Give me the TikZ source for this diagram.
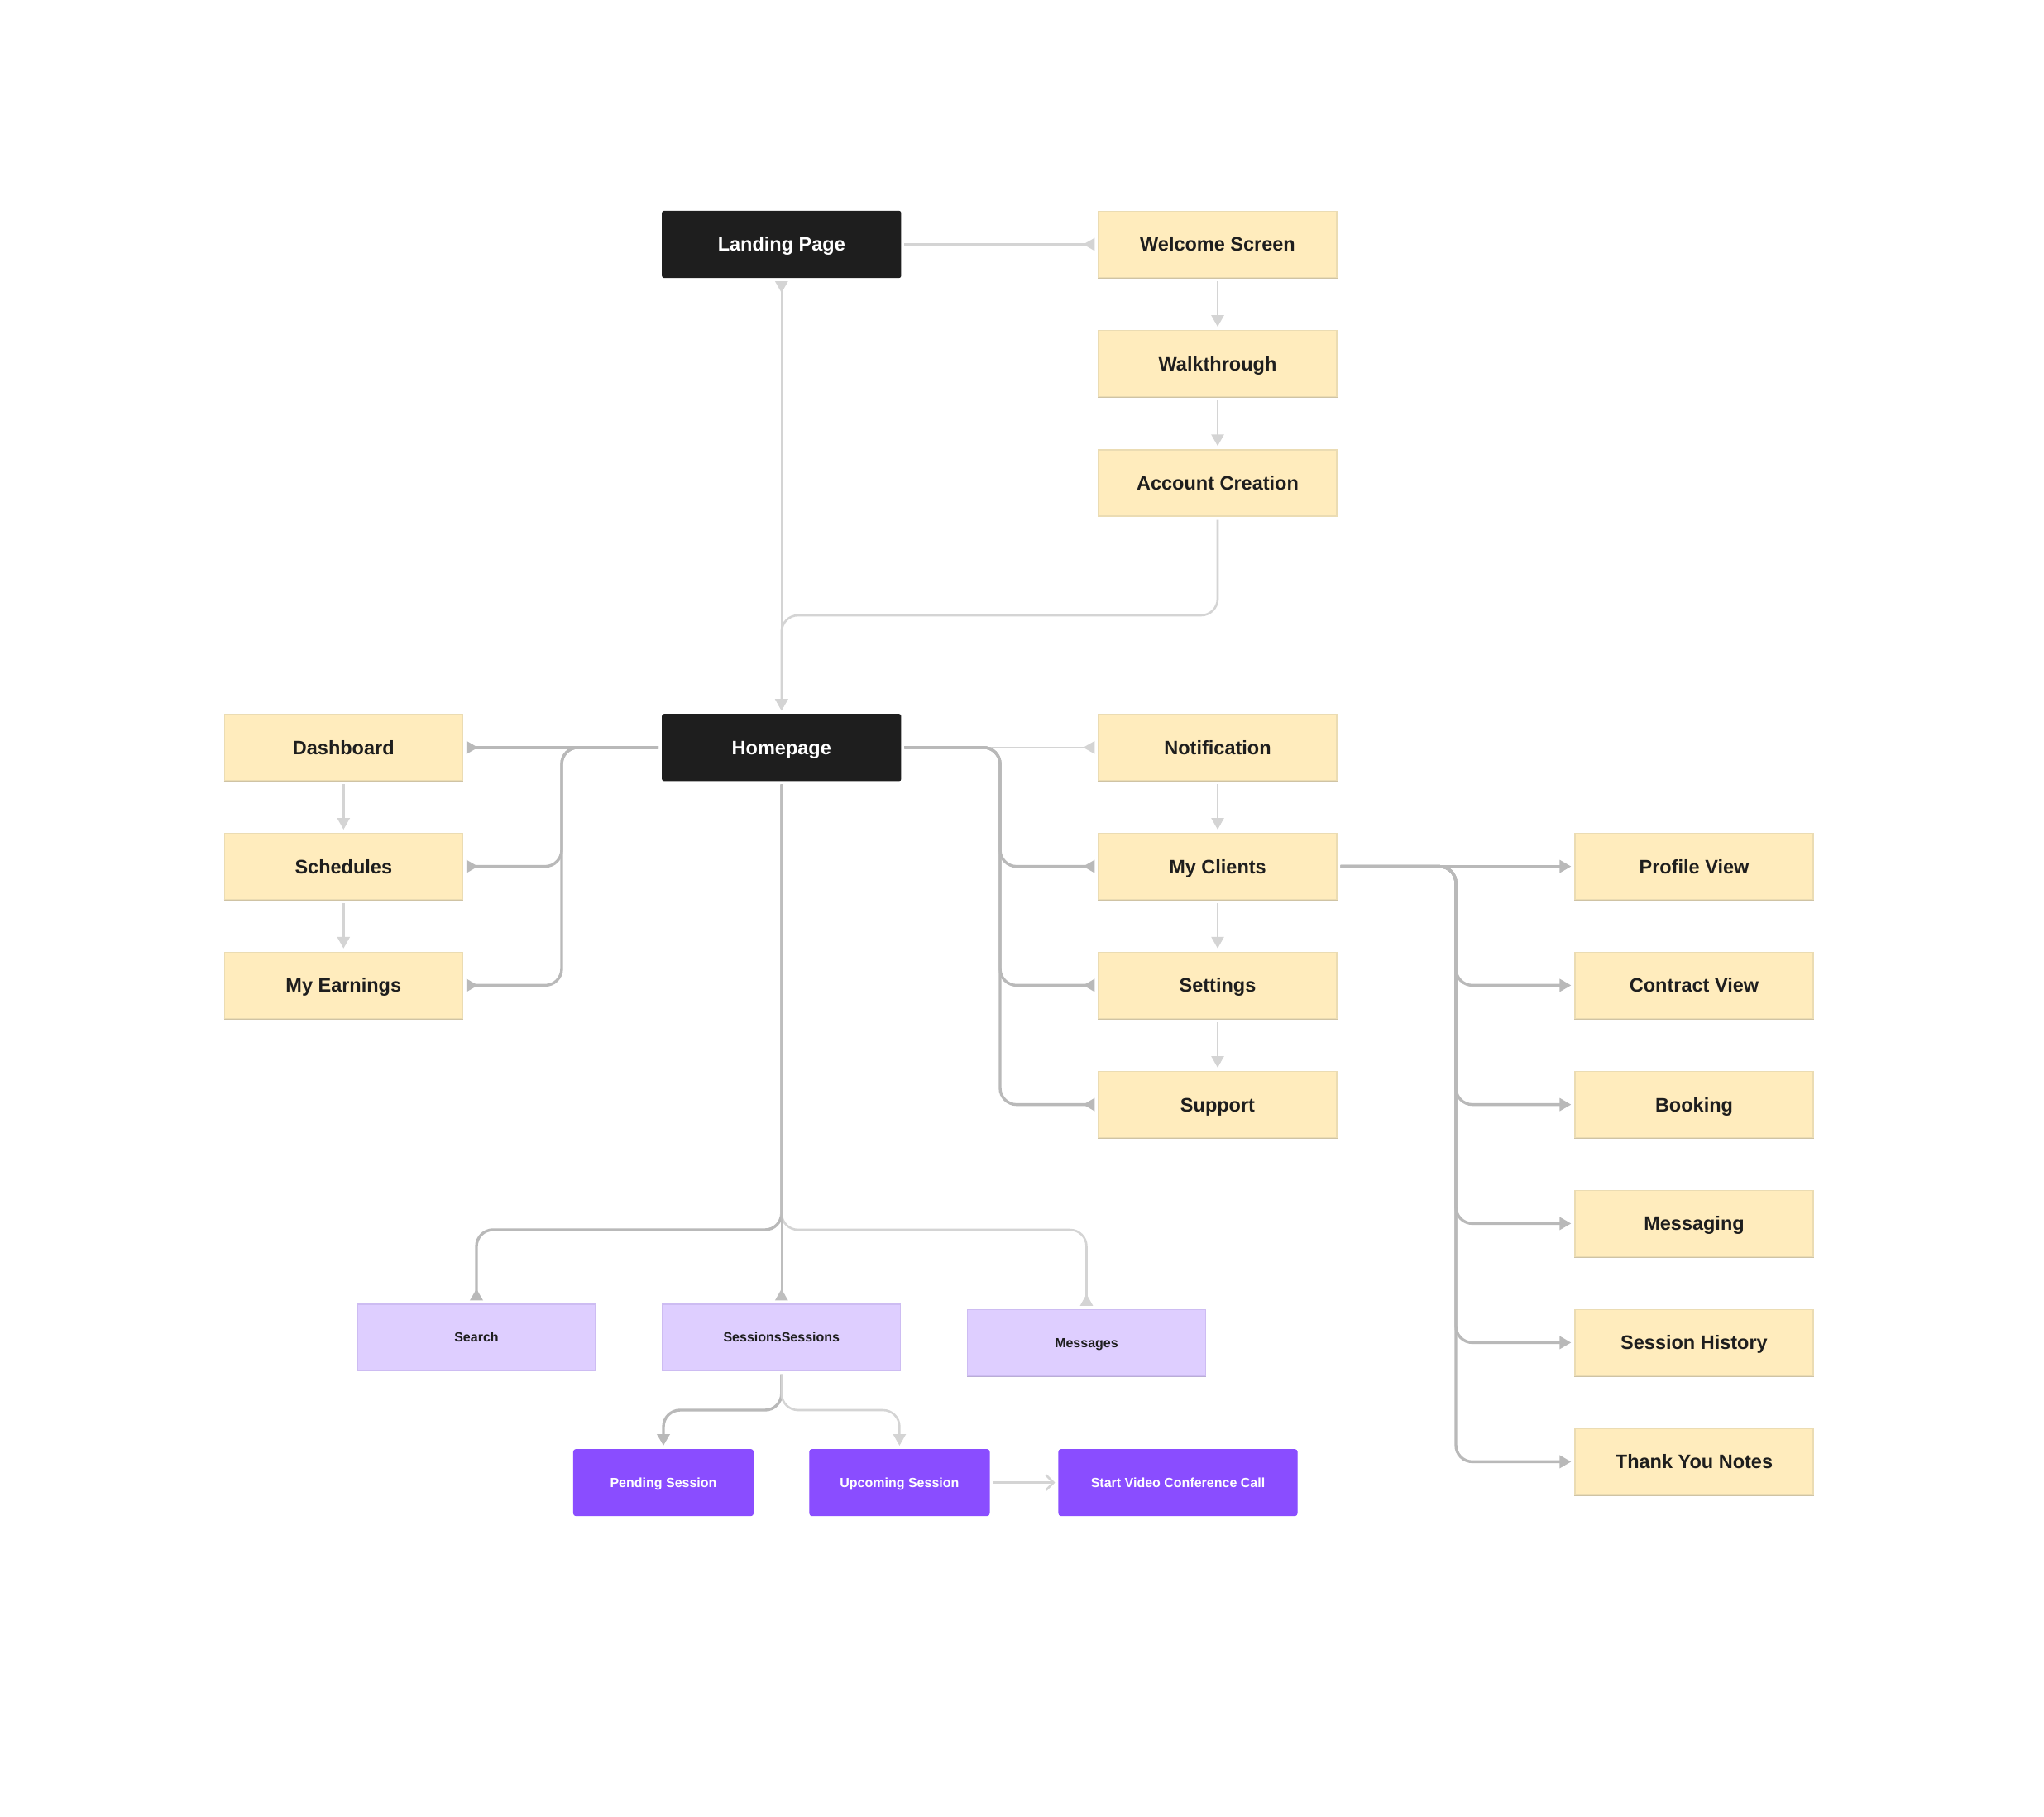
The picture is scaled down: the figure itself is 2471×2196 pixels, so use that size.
\documentclass[tikz,border=0pt]{standalone}
\usepackage{fontspec}
\setmainfont{Liberation Sans}
\usetikzlibrary{arrows.meta}
\definecolor{blk}{HTML}{1E1E1E}
\definecolor{ylw}{HTML}{FFECBD}
\definecolor{ylwb}{HTML}{EBDCB3}
\definecolor{ylws}{HTML}{CFC3A4}
\definecolor{lpur}{HTML}{DECEFF}
\definecolor{lpurb}{HTML}{CDBCF2}
\definecolor{lpurs}{HTML}{B9ACD6}
\definecolor{dpur}{HTML}{8A4DFF}
\definecolor{lg}{HTML}{D4D4D4}
\definecolor{dg}{HTML}{B9B9B9}
\tikzset{
  box/.style={rectangle, minimum width=288pt, minimum height=80pt, inner sep=0pt, line width=1.2pt},
  bigtxt/.style={font=\fontsize{23.5}{28}\selectfont\bfseries, text height=16.8pt, text depth=0pt},
  smalltxt/.style={font=\fontsize{16}{20}\selectfont\bfseries, text height=11.5pt, text depth=0pt},
  ybox/.style={box, bigtxt, fill=ylw, draw=ylwb, text=blk,
    append after command={\pgfextra{\draw[ylws, line width=1.6pt] (\tikzlastnode.south west) -- (\tikzlastnode.south east);}}},
  bbox/.style={box, bigtxt, fill=blk, draw=blk, rounded corners=2pt, text=white},
  pbox/.style={box, smalltxt, fill=lpur, draw=lpurb, text=blk,
    append after command={\pgfextra{\draw[lpurs, line width=1.6pt] (\tikzlastnode.south west) -- (\tikzlastnode.south east);}}},
  dbox/.style={box, smalltxt, minimum width=217pt, fill=dpur, draw=dpur, rounded corners=3pt, text=white},
  lline/.style={draw=lg, line width=2.6pt, rounded corners=20pt, shorten <=4pt, shorten >=4pt},
  dline/.style={draw=dg, line width=3.4pt, rounded corners=20pt, shorten <=4pt, shorten >=4pt},
  tip/.style={-{Triangle[length=14pt,width=15pt]}},
  rtip/.style={-{Triangle[length=14pt,width=15pt,reversed]}},
}
\begin{document}
\begin{tikzpicture}[x=1pt,y=-1pt]
\useasboundingbox[fill=white] (0,0) rectangle (2471,2196);
% nodes
\node[bbox] (land) at (944.8,295.5) {Landing Page};
\node[ybox] (wel) at (1472,295.5) {Welcome Screen};
\node[ybox] (walk) at (1472,439.7) {Walkthrough};
\node[ybox] (acc) at (1472,583.9) {Account Creation};
\node[bbox] (home) at (944.8,903.8) {Homepage};
\node[ybox] (dash) at (415.3,903.8) {Dashboard};
\node[ybox] (sched) at (415.3,1047.6) {Schedules};
\node[ybox] (earn) at (415.3,1191.4) {My Earnings};
\node[ybox] (notif) at (1472,903.8) {Notification};
\node[ybox] (clients) at (1472,1047.6) {My Clients};
\node[ybox] (sett) at (1472,1191.4) {Settings};
\node[ybox] (supp) at (1472,1335.6) {Support};
\node[ybox] (prof) at (2048,1047.6) {Profile View};
\node[ybox] (contr) at (2048,1191.4) {Contract View};
\node[ybox] (book) at (2048,1335.6) {Booking};
\node[ybox] (msging) at (2048,1479.4) {Messaging};
\node[ybox] (hist) at (2048,1623.4) {Session History};
\node[ybox] (thank) at (2048,1767.4) {Thank You Notes};
\node[pbox] (search) at (576,1617) {Search};
\node[pbox] (sess) at (944.8,1617) {SessionsSessions};
\node[pbox] (msgs) at (1313.5,1623.4) {Messages};
\node[dbox] (pend) at (802,1792.6) {Pending Session};
\node[dbox] (upc) at (1087.4,1792.6) {Upcoming Session};
\node[dbox, minimum width=288pt] (video) at (1424,1792.6) {Start Video Conference Call};
% helper coordinates
\coordinate (ay) at (0,744);
\coordinate (lbx) at (679,0);
\coordinate (rbx) at (1209,0);
\coordinate (cbx) at (1760,0);
\coordinate (hy) at (0,1487);
\coordinate (sy) at (0,1705);
% connectors: top
\draw[lline, rtip] (land.east) -- (wel.west);
\draw[lline, tip] (wel.south) -- (walk.north);
\draw[lline, tip] (walk.south) -- (acc.north);
\draw[lline, tip] (acc.south) -- (acc.south |- ay) -- (home.north |- ay) -- (home.north);
\draw[lline, {Triangle[length=14pt,width=15pt,reversed]}-{Triangle[length=14pt,width=15pt]}] (land.south) -- (home.north);
% left
\draw[dline, rtip] (home.west) -- (dash.east);
\draw[dline, rtip] (home.west) -- (lbx |- home.west) -- (lbx |- sched.east) -- (sched.east);
\draw[dline, rtip] (home.west) -- (lbx |- home.west) -- (lbx |- earn.east) -- (earn.east);
\draw[lline, tip] (dash.south) -- (sched.north);
\draw[lline, tip] (sched.south) -- (earn.north);
% right
\draw[lline, rtip] (home.east) -- (notif.west);
\draw[dline, rtip] (home.east) -- (rbx |- home.east) -- (rbx |- clients.west) -- (clients.west);
\draw[dline, rtip] (home.east) -- (rbx |- home.east) -- (rbx |- sett.west) -- (sett.west);
\draw[dline, rtip] (home.east) -- (rbx |- home.east) -- (rbx |- supp.west) -- (supp.west);
\draw[lline, tip] (notif.south) -- (clients.north);
\draw[lline, tip] (clients.south) -- (sett.north);
\draw[lline, tip] (sett.south) -- (supp.north);
% clients fan-out
\draw[dline, tip] (clients.east) -- (prof.west);
\foreach \t in {contr, book, msging, hist, thank}
  \draw[dline, tip] (clients.east) -- (cbx |- clients.east) -- (cbx |- \t.west) -- (\t.west);
% bottom
\draw[dline, rtip] (home.south) -- (home.south |- hy) -- (search.north |- hy) -- (search.north);
\draw[lline, rtip] (home.south) -- (home.south |- hy) -- (msgs.north |- hy) -- (msgs.north);
\draw[lline, draw=dg!80!lg, rtip] (home.south) -- (sess.north);
\draw[dline, tip] (sess.south) -- (sess.south |- sy) -- (pend.north |- sy) -- (pend.north);
\draw[lline, tip] (sess.south) -- (sess.south |- sy) -- (upc.north |- sy) -- (upc.north);
\draw[lline, -{Straight Barb[length=9pt,width=18pt]}] (upc.east) -- (video.west);
\end{tikzpicture}
\end{document}
